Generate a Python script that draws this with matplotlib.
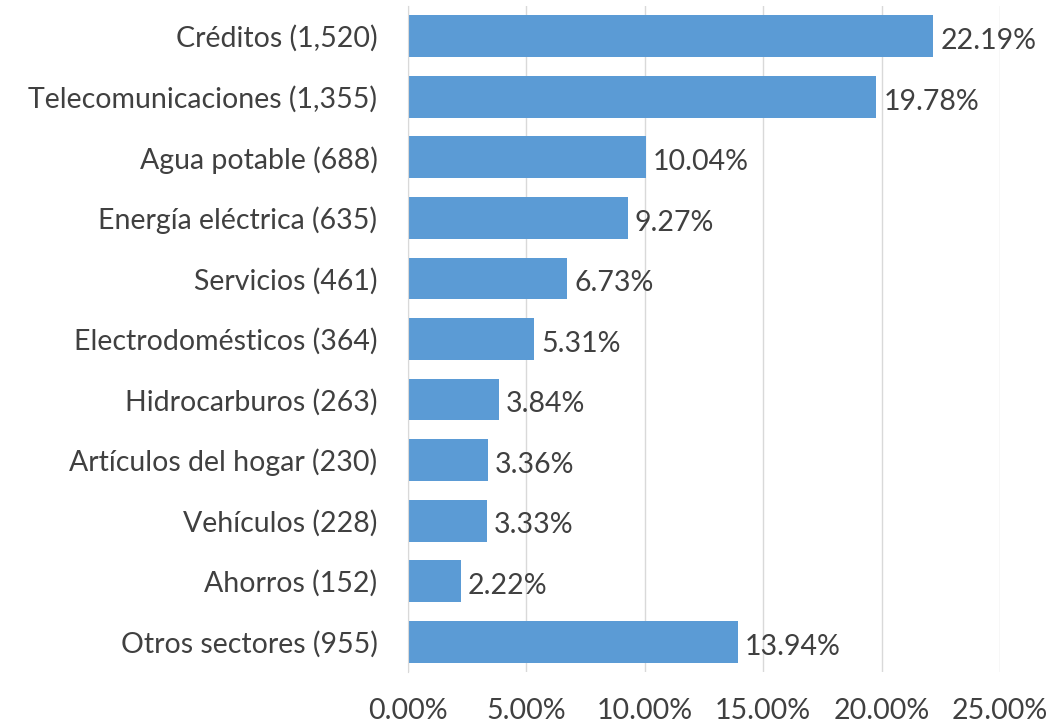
import matplotlib.pyplot as plt
from matplotlib.ticker import FuncFormatter

plt.rcParams['font.family'] = ['Lato', 'DejaVu Sans']

categories = ['Créditos (1,520)', 'Telecomunicaciones (1,355)', 'Agua potable (688)',
              'Energía eléctrica (635)', 'Servicios (461)', 'Electrodomésticos (364)',
              'Hidrocarburos (263)', 'Artículos del hogar (230)', 'Vehículos (228)',
              'Ahorros (152)', 'Otros sectores (955)']
shares = [22.19, 19.78, 10.04, 9.27, 6.73, 5.31, 3.84, 3.36, 3.33, 2.22, 13.94]
ticks = [0, 5, 10, 15, 20, 25]

fig = plt.figure(figsize=(10.56, 7.28), dpi=100)
ax = fig.add_axes([408 / 1056, 1 - 672 / 728, (1000 - 408) / 1056, (672 - 6) / 728])

y = list(range(len(categories)))
ax.barh(y, shares, height=0.69, color='#5B9BD5', zorder=3)
for yi, v in zip(y, shares):
    ax.text(v + 0.3, yi + 0.08, f'{v:.2f}%', va='center', ha='left',
            fontsize=20.5, color='#404040')

ax.set_yticks(y)
ax.set_yticklabels(categories, fontsize=20.5, color='#404040')
ax.set_ylim(len(categories) - 0.5, -0.5)
ax.set_xlim(0, 25)
ax.set_xticks(ticks)
ax.xaxis.set_major_formatter(FuncFormatter(lambda v, p: f'{v:.2f}%'))
ax.tick_params(axis='x', labelsize=20.5, labelcolor='#404040', length=0, pad=19)
ax.tick_params(axis='y', length=0, pad=22)
ax.grid(axis='x', color='#D9D9D9', linewidth=1, zorder=0)
for s in ['top', 'right', 'bottom']:
    ax.spines[s].set_visible(False)
ax.spines['left'].set_color('#D9D9D9')
ax.spines['left'].set_zorder(4)

fig.savefig('out.png', dpi=100)
